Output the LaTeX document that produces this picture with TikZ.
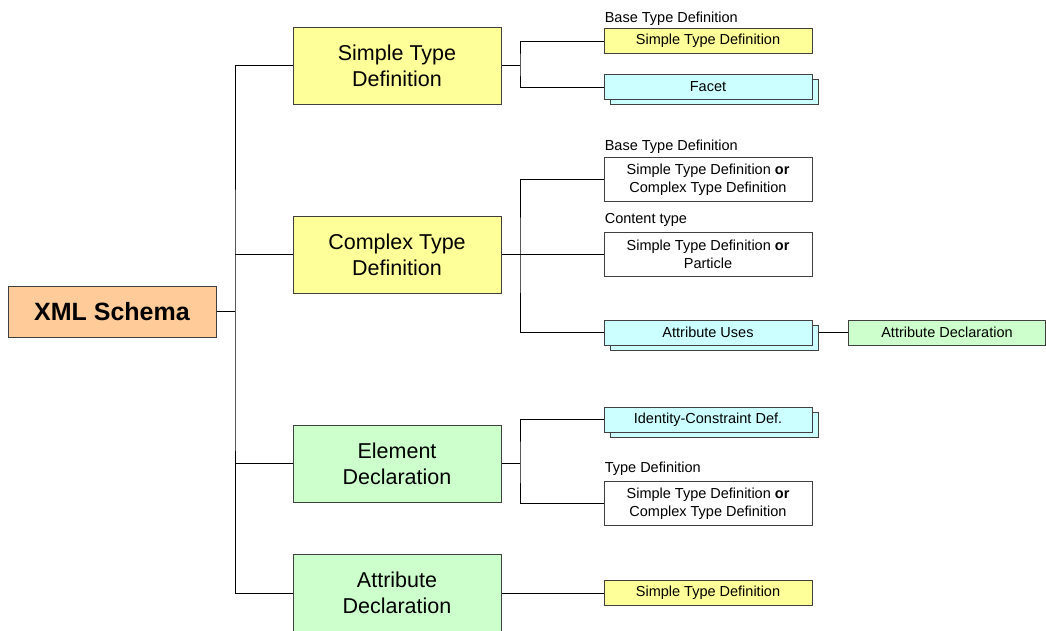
\documentclass[tikz,border=0pt]{standalone}
\usepackage{fontspec}
\setmainfont{Liberation Sans}
\usetikzlibrary{positioning, shadows, backgrounds}
\definecolor{schemaorange}{HTML}{FFCC99}
\definecolor{typeyellow}{HTML}{FFFF99}
\definecolor{declgreen}{HTML}{CCFFCC}
\definecolor{setcyan}{HTML}{CCFFFF}
\tikzset{
  every node/.style={inner sep=1pt},
  box/.style={draw=black!75, line width=0.8pt, align=center}, % common frame of all boxes
  bigbox/.style={box, minimum width=208pt, minimum height=77pt, font=\fontsize{21.5}{26}\selectfont},
  smallbox/.style={box, minimum width=208pt, minimum height=25pt, font=\fontsize{14.5}{18}\selectfont},
  tallbox/.style={smallbox, minimum height=44pt, fill=white},
  stacked/.style={copy shadow={shadow xshift=6pt, shadow yshift=-5pt}}, % a set of components
  caption/.style={font=\fontsize{14.5}{18}\selectfont, inner sep=0pt},
  link/.style={line width=1pt},
}
\begin{document}
\begin{tikzpicture}[x=1pt, y=-1pt]
  \useasboundingbox (0,0) rectangle (1046,630);
  % root and the four kinds of components
  \node[box, fill=schemaorange, minimum width=208pt, minimum height=51pt, font=\fontsize{25}{30}\selectfont\bfseries] (xml) at (112,311.5) {XML Schema};
  \node[bigbox, fill=typeyellow] (std) at (397,65.5) {Simple Type\\Definition};
  \node[bigbox, fill=typeyellow] (ctd) at (397,254.5) {Complex Type\\Definition};
  \node[bigbox, fill=declgreen] (eld) at (397,463.5) {Element\\Declaration};
  \node[bigbox, fill=declgreen] (atd) at (397,593) {Attribute\\Declaration};

  % properties
  \node[smallbox, fill=typeyellow] (stdbase) at (708,41) {Simple Type Definition};
  \node[smallbox, fill=setcyan, stacked] (facet) at (708,87) {Facet};
  \node[tallbox] (ctdbase) at (708,179.5) {Simple Type Definition \textbf{or}\\Complex Type Definition};
  \node[tallbox] (content) at (708,254.5) {Simple Type Definition \textbf{or}\\Particle};
  \node[smallbox, fill=setcyan, stacked] (attruses) at (708,332.5) {Attribute Uses};
  \node[smallbox, fill=declgreen, minimum width=197pt] (attrdecl) at (947,332.5) {Attribute Declaration};
  \node[smallbox, fill=setcyan, stacked] (idc) at (708,419.5) {Identity-Constraint Def.};
  \node[tallbox] (eltype) at (708,503.5) {Simple Type Definition \textbf{or}\\Complex Type Definition};
  \node[smallbox, fill=typeyellow] (atdtype) at (708,593) {Simple Type Definition};

  % property names
  \node[caption, above right=2pt and 1pt of stdbase.north west] {Base Type Definition};
  \node[caption, above right=3pt and 1pt of ctdbase.north west] {Base Type Definition};
  \node[caption, above right=5pt and 1pt of content.north west] {Content type};
  \node[caption, above right=5pt and 1pt of eltype.north west] {Type Definition};

  \begin{scope}[on background layer]
    \coordinate (trunk) at (235,311.5);
    \coordinate (stdj) at (520,65.5);
    \coordinate (ctdj) at (520,254.5);
    \coordinate (eldj) at (520,463.5);
    \draw[link] (xml.east) -- (trunk);
    \draw[link] (std.west) -| (trunk) |- (atd.west);
    \draw[link] (ctd.west) -- (ctd.west -| trunk);
    \draw[link] (eld.west) -- (eld.west -| trunk);
    % simple type definition
    \draw[link] (std.east) -- (stdj);
    \draw[link] (stdbase.west) -| (stdj) |- (facet.west);
    % complex type definition
    \draw[link] (ctd.east) -- (content.west);
    \draw[link] (ctdbase.west) -| (ctdj) |- (attruses.west);
    \draw[link] (attruses.east) -- (attrdecl.west);
    % element declaration
    \draw[link] (eld.east) -- (eldj);
    \draw[link] (idc.west) -| (eldj) |- (eltype.west);
    % attribute declaration
    \draw[link] (atd.east) -- (atdtype.west);
  \end{scope}
\end{tikzpicture}
\end{document}
